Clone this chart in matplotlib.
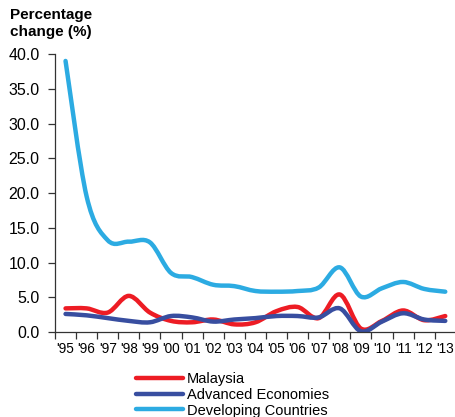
import numpy as np
import matplotlib.pyplot as plt
from matplotlib.path import Path
from matplotlib.patches import PathPatch
from matplotlib.lines import Line2D

plt.rcParams['font.family'] = ['Liberation Sans', 'DejaVu Sans']

years = ["'95", "'96", "'97", "'98", "'99", "'00", "'01", "'02", "'03", "'04",
         "'05", "'06", "'07", "'08", "'09", "'10", "'11", "'12", "'13"]
malaysia = [3.4, 3.4, 2.8, 5.2, 2.8, 1.6, 1.4, 1.8, 1.1, 1.4,
            3.0, 3.6, 2.0, 5.4, 0.5, 1.6, 3.1, 1.7, 2.3]
advanced = [2.6, 2.4, 2.0, 1.6, 1.4, 2.3, 2.1, 1.5, 1.8, 2.0,
            2.3, 2.3, 2.1, 3.4, 0.1, 1.5, 2.7, 1.8, 1.6]
developing = [39.0, 19.5, 13.2, 13.0, 12.9, 8.5, 7.9, 6.8, 6.6, 5.9,
              5.8, 5.9, 6.4, 9.3, 5.1, 6.3, 7.2, 6.2, 5.8]

series = [("Malaysia", malaysia, "#ED1C24"),
          ("Advanced Economies", advanced, "#384EA0"),
          ("Developing Countries", developing, "#2CABE2")]


def smooth_path(x, y):
    # Catmull-Rom style bezier through the points (like Excel smoothed lines)
    x = np.asarray(x, float)
    y = np.asarray(y, float)
    verts = [(x[0], y[0])]
    codes = [Path.MOVETO]
    n = len(x)
    for i in range(n - 1):
        p0 = np.array([x[max(i - 1, 0)], y[max(i - 1, 0)]])
        p1 = np.array([x[i], y[i]])
        p2 = np.array([x[i + 1], y[i + 1]])
        p3 = np.array([x[min(i + 2, n - 1)], y[min(i + 2, n - 1)]])
        c1 = p1 + (p2 - p0) / 6.0
        c2 = p2 - (p3 - p1) / 6.0
        verts += [tuple(c1), tuple(c2), tuple(p2)]
        codes += [Path.CURVE4] * 3
    return Path(verts, codes)


fig = plt.figure(figsize=(4.56, 4.17), dpi=100)
ax = fig.add_axes([0.1206, 0.2038, 0.879, 0.6667])

x = np.arange(len(years))
for name, vals, col in series:
    ax.add_patch(PathPatch(smooth_path(x, vals), facecolor='none', edgecolor=col,
                           lw=3.2, capstyle='round', joinstyle='round'))

ax.set_xlim(-0.5, len(years) - 0.5)
ax.set_ylim(0, 40)
ax.set_yticks(np.arange(0, 41, 5))
ax.set_yticklabels([f'{v:.1f}' for v in np.arange(0, 41, 5)], fontsize=11.5)
ax.set_xticks(x)
ax.set_xticklabels(years, fontsize=9.8)
ax.set_xticks(np.arange(-0.5, len(years), 1), minor=True)
ax.tick_params(axis='x', which='major', length=0, pad=7)
ax.tick_params(axis='x', which='minor', length=5, width=0.9, color='#333333')
ax.tick_params(axis='y', length=5, width=0.9, color='#333333', pad=6)

for s in ['top', 'right']:
    ax.spines[s].set_visible(False)
for s in ['left', 'bottom']:
    ax.spines[s].set_color('#333333')
    ax.spines[s].set_linewidth(0.9)

fig.text(10 / 456, 1 - 8 / 417, 'Percentage\nchange (%)', fontsize=11,
         fontweight='bold', va='top', ha='left', linespacing=1.3)

handles = [Line2D([], [], color=c, lw=3.2, solid_capstyle='round') for _, _, c in series]
fig.legend(handles, [n for n, _, _ in series], loc='upper left',
           bbox_to_anchor=(136 / 456, 1 - 372 / 417), frameon=False,
           fontsize=10.5, handlelength=3.2, handletextpad=0.3,
           labelspacing=0.12, borderpad=0, borderaxespad=0)

fig.savefig('out.png', dpi=100)
